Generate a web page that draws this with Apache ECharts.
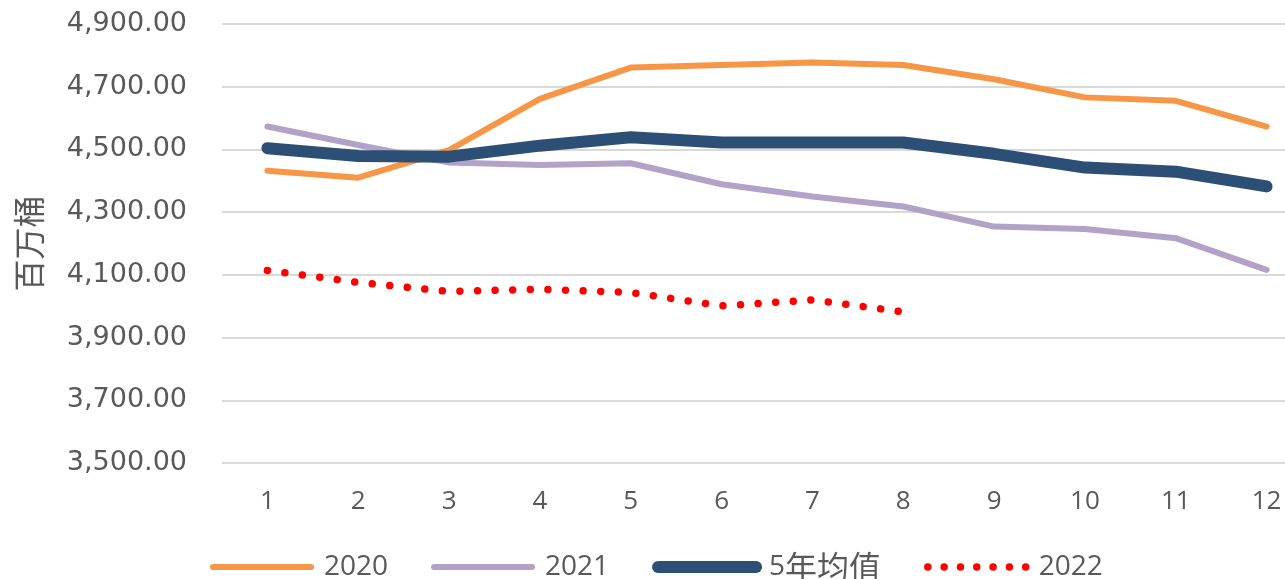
<!DOCTYPE html>
<html>
<head>
<meta charset="utf-8">
<script src="https://cdn.jsdelivr.net/npm/echarts@6/dist/echarts.min.js"></script>
<style>
  html, body { margin: 0; padding: 0; background: #ffffff; }
  #chart { width: 1285px; height: 579px; }
</style>
</head>
<body>
<div id="chart"></div>
<script>
// Months on the category axis
const months = ['1', '2', '3', '4', '5', '6', '7', '8', '9', '10', '11', '12'];

// Inventory levels, million barrels
const y2020 = [4432, 4410, 4498, 4661, 4761, 4769, 4777, 4769, 4724, 4666, 4655, 4573];
const y2021 = [4573, 4514, 4458, 4450, 4456, 4389, 4350, 4318, 4254, 4246, 4217, 4116];
const avg5y = [4504, 4479, 4477, 4512, 4539, 4522, 4522, 4522, 4486, 4442, 4429, 4382];
const y2022 = [4114, 4076, 4047, 4054, 4044, 4001, 4020, 3982];

// Value axis range
const yMin = 3500;
const yMax = 4900;
const yStep = 200;

const seriesNames = ['2020', '2021', '5年均值', '2022'];

// Line styles shared by the series and their legend entries
const styles = {
  '2020':   { color: '#F79646', width: 6,  type: 'solid' },
  '2021':   { color: '#B3A2C7', width: 6,  type: 'solid' },
  '5年均值': { color: '#2D4F75', width: 12, type: 'solid' },
  '2022':   { color: '#FF0000', width: 7.5, type: [0.01, 17.6] }
};

const chart = echarts.init(document.getElementById('chart'), null, { renderer: 'canvas' });

const fmt = v => v.toLocaleString('en-US', { minimumFractionDigits: 2, maximumFractionDigits: 2 });

const lineStyleOf = name => ({
  color: styles[name].color,
  width: styles[name].width,
  type: styles[name].type,
  cap: 'round',
  join: 'round'
});

// Legend swatches: same strokes, dots a little tighter
const legendLineStyleOf = name => {
  const s = lineStyleOf(name);
  if (name === '2022') s.type = [0.01, 16.3];
  return s;
};

chart.setOption({
  animation: false,
  backgroundColor: '#ffffff',
  grid: {
    left: 222, width: 1090, top: 24, bottom: 116,
    containLabel: false, outerBoundsMode: 'none'
  },
  legend: {
    data: seriesNames.map(n => ({
      name: n,
      itemStyle: { opacity: 0 },
      lineStyle: legendLineStyleOf(n)
    })),
    left: 205,
    top: 546,
    itemWidth: 98,
    itemHeight: 14,
    itemGap: 43,
    formatter: name => name.replace(/([^\x00-\x7F]+)/g, '{cjk|$1}'),
    textStyle: {
      fontFamily: 'Open Sans', fontSize: 28, color: '#595959', padding: [0, 0, 0, 8],
      rich: {
        cjk: { fontFamily: 'Noto Sans CJK SC', fontSize: 32, color: '#595959' }
      }
    }
  },
  xAxis: {
    type: 'category',
    data: months,
    boundaryGap: true,
    axisLine: { show: false },
    axisTick: { show: false },
    axisLabel: { fontFamily: 'Open Sans', fontSize: 26, color: '#595959', margin: 26 }
  },
  yAxis: {
    type: 'value',
    min: yMin,
    max: yMax,
    interval: yStep,
    name: '百万桶',
    nameLocation: 'middle',
    nameRotate: 90,
    nameGap: 177,
    nameTextStyle: { fontFamily: 'Noto Sans CJK SC', fontSize: 32, color: '#595959' },
    axisLine: { show: false },
    axisTick: { show: false },
    axisLabel: {
      fontFamily: 'DejaVu Sans', fontSize: 27, color: '#595959', margin: 35,
      formatter: fmt
    },
    splitLine: { lineStyle: { color: '#d9d9d9', width: 2 } }
  },
  series: [
    {
      name: '2020', type: 'line', data: y2020, symbol: 'none',
      itemStyle: { color: styles['2020'].color },
      lineStyle: lineStyleOf('2020')
    },
    {
      name: '2021', type: 'line', data: y2021, symbol: 'none',
      itemStyle: { color: styles['2021'].color },
      lineStyle: lineStyleOf('2021')
    },
    {
      name: '5年均值', type: 'line', data: avg5y, symbol: 'none', z: 3,
      itemStyle: { color: styles['5年均值'].color },
      lineStyle: lineStyleOf('5年均值')
    },
    {
      name: '2022', type: 'line', data: y2022, symbol: 'none',
      itemStyle: { color: styles['2022'].color },
      lineStyle: lineStyleOf('2022')
    }
  ]
});
</script>
</body>
</html>
